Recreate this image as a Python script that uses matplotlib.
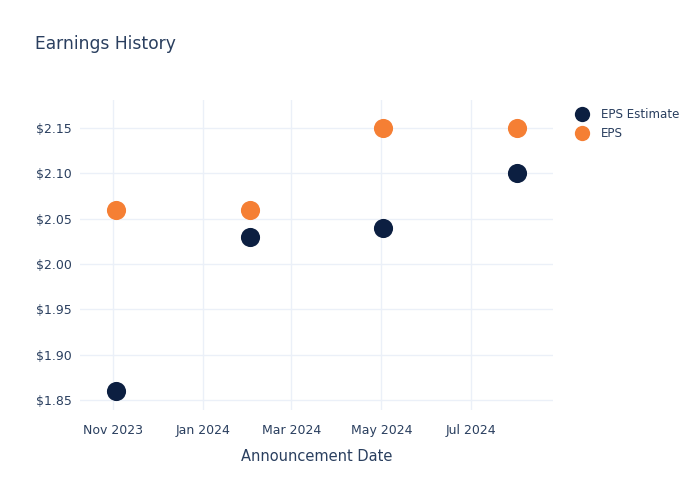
import matplotlib
matplotlib.use("Agg")
import matplotlib.pyplot as plt
import matplotlib.dates as mdates
from matplotlib.lines import Line2D
import datetime as dt

dates = ["2023-11-03", "2024-02-02", "2024-05-02", "2024-08-01"]
eps_estimate = [1.86, 2.03, 2.04, 2.10]
eps_actual = [2.06, 2.06, 2.15, 2.15]
yticks = [1.85, 1.90, 1.95, 2.00, 2.05, 2.10, 2.15]
xticks = ["2023-11-01", "2024-01-01", "2024-03-01", "2024-05-01", "2024-07-01"]

x = [dt.datetime.strptime(d, "%Y-%m-%d") for d in dates]
xt = [dt.datetime.strptime(d, "%Y-%m-%d") for d in xticks]

text_color = "#2a3f5f"
grid_color = "#ebf0f8"
navy = "#0c1f41"
orange = "#f57f34"

fig = plt.figure(figsize=(7, 5), dpi=100)
ax = fig.add_axes([80/700, 1-410/500, (553-80)/700, (410-100)/500])

ax.scatter(x, eps_estimate, s=190, color=navy, zorder=3, linewidths=0)
ax.scatter(x, eps_actual, s=190, color=orange, zorder=3, linewidths=0)

ax.set_xlim(dt.datetime(2023, 10, 9, 12), dt.datetime(2024, 8, 25, 12))
ax.set_ylim(1.839, 2.181)
ax.set_xticks(xt)
ax.xaxis.set_major_formatter(mdates.DateFormatter("%b %Y"))
ax.set_yticks(yticks)
ax.set_yticklabels([f"${v:.2f}" for v in yticks])

ax.grid(True, color=grid_color, linewidth=1)
ax.set_axisbelow(True)
for s in ax.spines.values():
    s.set_visible(False)
ax.tick_params(axis="both", length=0, colors=text_color, labelsize=9, pad=6)
ax.tick_params(axis="x", pad=10)

ax.set_xlabel("Announcement Date", color=text_color, fontsize=10.5, labelpad=9)
fig.text(35/700, 1-44/500, "Earnings History", color=text_color, fontsize=12.3, va="center", ha="left")

handles = [Line2D([], [], marker="o", linestyle="", markersize=11, color=navy, markeredgewidth=0),
           Line2D([], [], marker="o", linestyle="", markersize=11, color=orange, markeredgewidth=0)]
leg = fig.legend(handles, ["EPS Estimate", "EPS"], loc="upper left",
                 bbox_to_anchor=(570/700, 1-103/500), frameon=False,
                 fontsize=8.6, labelcolor=text_color, handletextpad=1.0,
                 labelspacing=0.5, borderaxespad=0, handlelength=1.2)

fig.savefig("out.png", dpi=100)
